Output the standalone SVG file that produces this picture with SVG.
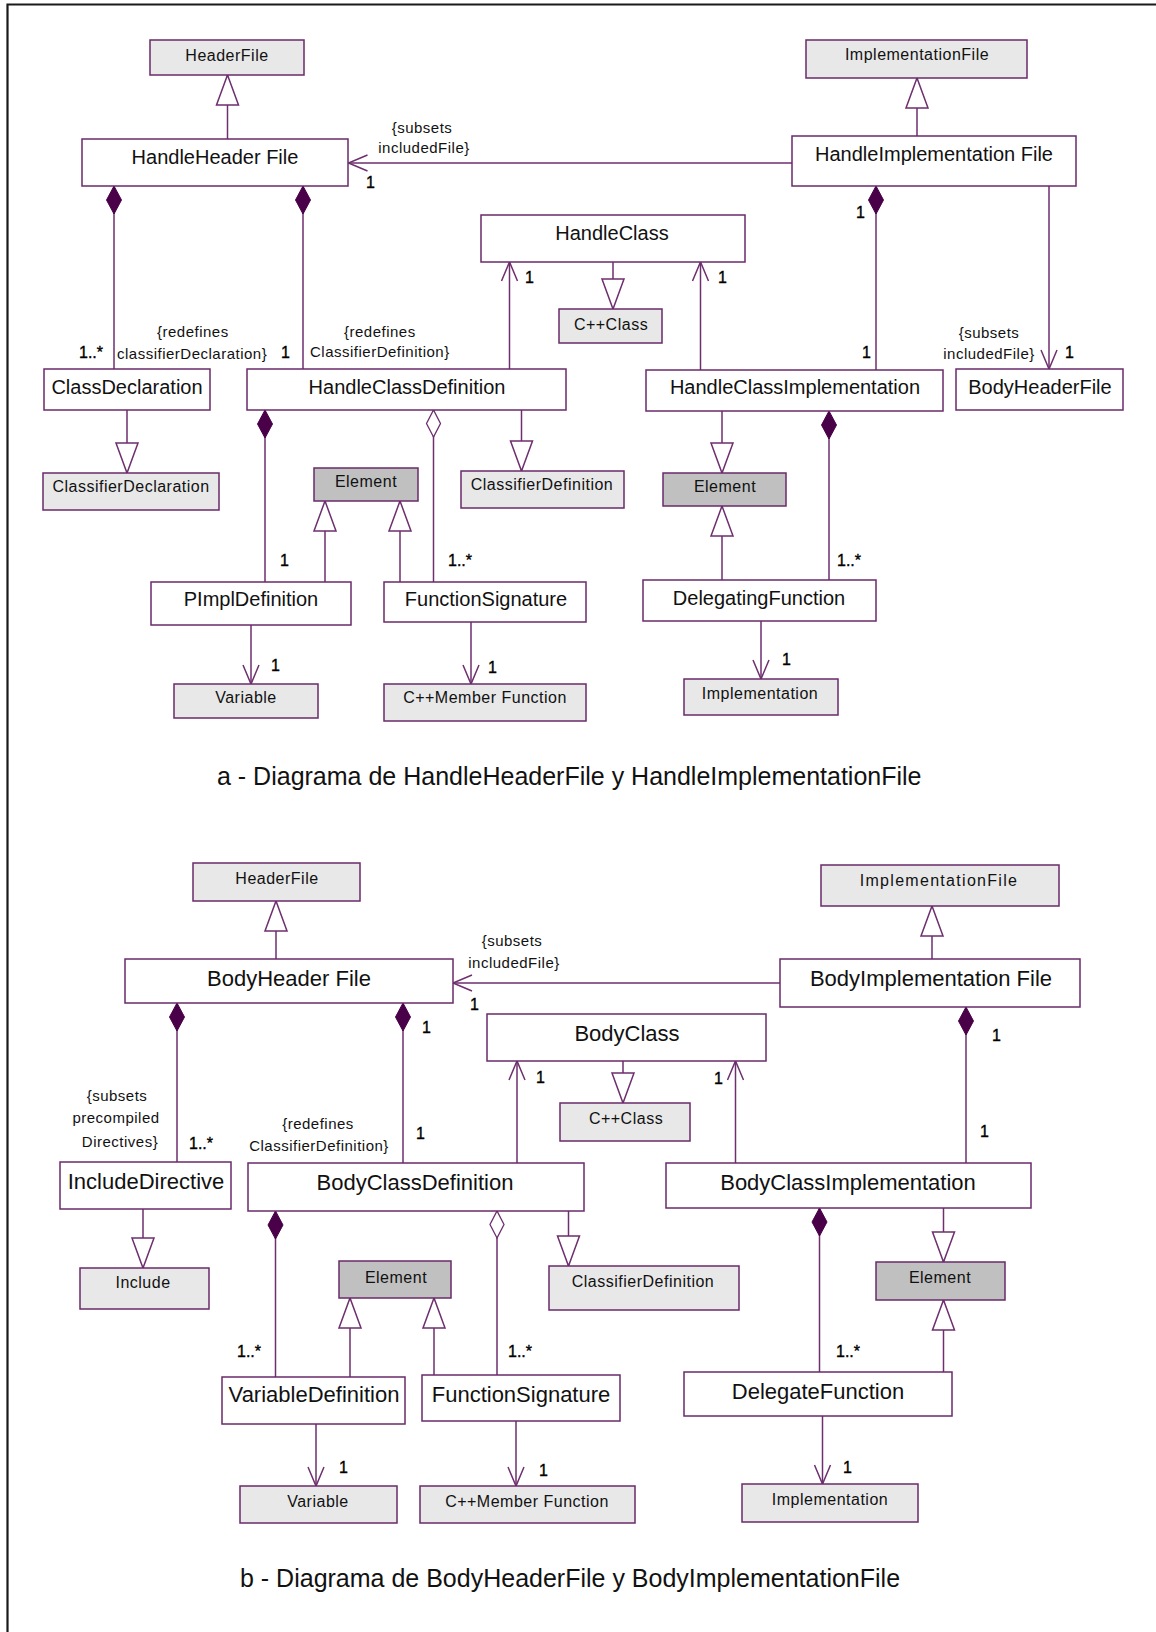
<svg xmlns="http://www.w3.org/2000/svg" width="1156" height="1632" viewBox="0 0 1156 1632">
<style>
.bg{fill:#fff}
.box{fill:#fff;stroke:#6a2a6a;stroke-width:1.5}
.lib{fill:#e8e8e8;stroke:#6a2a6a;stroke-width:1.5}
.el{fill:#c0c0c0;stroke:#6a2a6a;stroke-width:1.5}
text{font-family:"Liberation Sans",Arial,sans-serif;fill:#111}
.na{font-size:20px;text-anchor:middle}
.nb{font-size:22px;text-anchor:middle}
.s{font-size:16px;text-anchor:middle;letter-spacing:0.5px}
.lbl{font-size:15px;letter-spacing:0.5px}
.lc{font-size:15px;letter-spacing:0.5px;text-anchor:middle}
.m{font-size:16px;fill:#000;stroke:#000;stroke-width:0.35px}
.cap{font-size:25px}
.c line{stroke:#6e2f6e;stroke-width:1.5;fill:none}
.g{marker-end:url(#gen)}
.d{marker-end:url(#comp)}
.o{marker-end:url(#agg)}
.a{marker-end:url(#arr)}
</style>
<defs>
<marker id="gen" markerUnits="userSpaceOnUse" markerWidth="34" markerHeight="26" refX="30" refY="12" orient="auto" overflow="visible">
<path d="M0,1 L30,12 L0,23 Z" fill="#fff" stroke="#6e2f6e" stroke-width="1.5"/>
</marker>
<marker id="comp" markerUnits="userSpaceOnUse" markerWidth="30" markerHeight="18" refX="28" refY="7.5" orient="auto" overflow="visible">
<path d="M0,7.5 L14,0 L28,7.5 L14,15 Z" fill="#4a0048" stroke="#4a0048" stroke-width="1"/>
</marker>
<marker id="agg" markerUnits="userSpaceOnUse" markerWidth="30" markerHeight="18" refX="27" refY="7" orient="auto" overflow="visible">
<path d="M0,7 L13.5,0 L27,7 L13.5,14 Z" fill="#fff" stroke="#6e2f6e" stroke-width="1.3"/>
</marker>
<marker id="arr" markerUnits="userSpaceOnUse" markerWidth="22" markerHeight="18" refX="19" refY="8" orient="auto" overflow="visible">
<path d="M0,0 L19,8 L0,16" fill="none" stroke="#6e2f6e" stroke-width="1.5"/>
</marker>
</defs>
<rect class="bg" x="0" y="0" width="1156" height="1632"/>
<path d="M7.5,1632 V4.5 H1156" fill="none" stroke="#1a1a1a" stroke-width="2.2"/>

<g id="connectors" class="c">
<line class="g" x1="227.5" y1="139" x2="227.5" y2="75"/>
<line class="g" x1="917" y1="136" x2="917" y2="78"/>
<line class="a" x1="792" y1="163" x2="348.5" y2="163"/>
<line class="d" x1="114" y1="369" x2="114" y2="186"/>
<line class="d" x1="303" y1="369" x2="303" y2="186"/>
<line class="g" x1="613" y1="262" x2="613" y2="309"/>
<line class="a" x1="509.5" y1="369" x2="509.5" y2="262"/>
<line class="a" x1="700.5" y1="370" x2="700.5" y2="262"/>
<line class="d" x1="876" y1="370" x2="876" y2="186"/>
<line class="a" x1="1049" y1="186" x2="1049" y2="369"/>
<line class="g" x1="127" y1="410" x2="127" y2="473"/>
<line class="d" x1="265" y1="582" x2="265" y2="410"/>
<line class="o" x1="433.5" y1="582" x2="433.5" y2="410"/>
<line class="g" x1="521.5" y1="410" x2="521.5" y2="471"/>
<line class="g" x1="325" y1="582" x2="325" y2="501"/>
<line class="g" x1="400" y1="582" x2="400" y2="501"/>
<line class="a" x1="251" y1="625" x2="251" y2="684"/>
<line class="a" x1="471" y1="622" x2="471" y2="684"/>
<line class="g" x1="722" y1="411" x2="722" y2="473"/>
<line class="g" x1="722" y1="580" x2="722" y2="506"/>
<line class="d" x1="829" y1="580" x2="829" y2="411"/>
<line class="a" x1="761" y1="621" x2="761" y2="679"/>

<line class="g" x1="276" y1="959" x2="276" y2="901"/>
<line class="g" x1="932" y1="959" x2="932" y2="906"/>
<line class="a" x1="780" y1="983" x2="453" y2="983"/>
<line class="d" x1="177" y1="1162" x2="177" y2="1003"/>
<line class="d" x1="403" y1="1163" x2="403" y2="1003"/>
<line class="g" x1="623" y1="1061" x2="623" y2="1103"/>
<line class="a" x1="517" y1="1163" x2="517" y2="1061"/>
<line class="a" x1="735.5" y1="1163" x2="735.5" y2="1061"/>
<line class="d" x1="966" y1="1163" x2="966" y2="1007"/>
<line class="g" x1="143" y1="1209" x2="143" y2="1268"/>
<line class="d" x1="275.5" y1="1377" x2="275.5" y2="1211"/>
<line class="o" x1="497" y1="1375" x2="497" y2="1211"/>
<line class="g" x1="568.5" y1="1211" x2="568.5" y2="1266"/>
<line class="g" x1="350" y1="1377" x2="350" y2="1298"/>
<line class="g" x1="434" y1="1375" x2="434" y2="1298"/>
<line class="a" x1="316" y1="1424" x2="316" y2="1486"/>
<line class="a" x1="516" y1="1421" x2="516" y2="1486"/>
<line class="d" x1="819.5" y1="1372" x2="819.5" y2="1208"/>
<line class="g" x1="943.5" y1="1208" x2="943.5" y2="1262"/>
<line class="g" x1="943.5" y1="1372" x2="943.5" y2="1300"/>
<line class="a" x1="822.5" y1="1416" x2="822.5" y2="1484"/>
</g>

<g id="labels">
<text class="lc" x="422" y="133">{subsets</text>
<text class="lc" x="424" y="153">includedFile}</text>
<text class="m" x="366" y="188">1</text>
<text class="m" x="79" y="358">1..*</text>
<text class="lbl" x="157" y="337">{redefines</text>
<text class="lbl" x="117" y="359">classifierDeclaration}</text>
<text class="m" x="281" y="358">1</text>
<text class="lbl" x="344" y="337">{redefines</text>
<text class="lbl" x="310" y="357">ClassifierDefinition}</text>
<text class="m" x="525" y="283">1</text>
<text class="m" x="718" y="283">1</text>
<text class="m" x="856" y="218">1</text>
<text class="m" x="862" y="358">1</text>
<text class="lc" x="989" y="338">{subsets</text>
<text class="lc" x="989" y="359">includedFile}</text>
<text class="m" x="1065" y="358">1</text>
<text class="m" x="280" y="566">1</text>
<text class="m" x="448" y="566">1..*</text>
<text class="m" x="837" y="566">1..*</text>
<text class="m" x="271" y="671">1</text>
<text class="m" x="488" y="673">1</text>
<text class="m" x="782" y="665">1</text>
<text class="cap" x="217" y="785">a - Diagrama de HandleHeaderFile y HandleImplementationFile</text>

<text class="lc" x="512" y="946">{subsets</text>
<text class="lc" x="514" y="968">includedFile}</text>
<text class="m" x="470" y="1010">1</text>
<text class="lc" x="117" y="1101">{subsets</text>
<text class="lc" x="116" y="1123">precompiled</text>
<text class="lc" x="120" y="1147">Directives}</text>
<text class="m" x="189" y="1149">1..*</text>
<text class="lc" x="318" y="1129">{redefines</text>
<text class="lc" x="319" y="1151">ClassifierDefinition}</text>
<text class="m" x="422" y="1033">1</text>
<text class="m" x="416" y="1139">1</text>
<text class="m" x="536" y="1083">1</text>
<text class="m" x="714" y="1084">1</text>
<text class="m" x="992" y="1041">1</text>
<text class="m" x="980" y="1137">1</text>
<text class="m" x="237" y="1357">1..*</text>
<text class="m" x="508" y="1357">1..*</text>
<text class="m" x="836" y="1357">1..*</text>
<text class="m" x="339" y="1473">1</text>
<text class="m" x="539" y="1476">1</text>
<text class="m" x="843" y="1473">1</text>
<text class="cap" x="240" y="1587">b - Diagrama de BodyHeaderFile y BodyImplementationFile</text>
</g>

<g id="a-HeaderFile"><rect class="lib" x="150" y="40" width="154" height="35"/><text class="s" x="227" y="61">HeaderFile</text></g>
<g id="a-ImplementationFile"><rect class="lib" x="806" y="40" width="221" height="38"/><text class="s" x="917" y="60">ImplementationFile</text></g>
<g id="a-HandleHeaderFile"><rect class="box" x="82" y="139" width="266" height="47"/><text class="na" x="215" y="164">HandleHeader File</text></g>
<g id="a-HandleImplementationFile"><rect class="box" x="792" y="136" width="284" height="50"/><text class="na" x="934" y="161">HandleImplementation File</text></g>
<g id="a-HandleClass"><rect class="box" x="481" y="215" width="264" height="47"/><text class="na" x="612" y="240">HandleClass</text></g>
<g id="a-CppClass"><rect class="lib" x="559" y="309" width="103" height="34"/><text class="s" x="611" y="330">C++Class</text></g>
<g id="a-ClassDeclaration"><rect class="box" x="44" y="369" width="166" height="41"/><text class="na" x="127" y="394">ClassDeclaration</text></g>
<g id="a-HandleClassDefinition"><rect class="box" x="247" y="369" width="319" height="41"/><text class="na" x="407" y="394">HandleClassDefinition</text></g>
<g id="a-HandleClassImplementation"><rect class="box" x="646" y="370" width="297" height="41"/><text class="na" x="795" y="394">HandleClassImplementation</text></g>
<g id="a-BodyHeaderFile"><rect class="box" x="956" y="369" width="167" height="41"/><text class="na" x="1040" y="394">BodyHeaderFile</text></g>
<g id="a-ClassifierDeclaration"><rect class="lib" x="43" y="473" width="176" height="37"/><text class="s" x="131" y="492">ClassifierDeclaration</text></g>
<g id="a-Element1"><rect class="el" x="314" y="468" width="104" height="33"/><text class="s" x="366" y="487">Element</text></g>
<g id="a-ClassifierDefinition"><rect class="lib" x="461" y="471" width="163" height="37"/><text class="s" x="542" y="490">ClassifierDefinition</text></g>
<g id="a-Element2"><rect class="el" x="663" y="473" width="123" height="33"/><text class="s" x="725" y="492">Element</text></g>
<g id="a-PImplDefinition"><rect class="box" x="151" y="582" width="200" height="43"/><text class="na" x="251" y="606">PImplDefinition</text></g>
<g id="a-FunctionSignature"><rect class="box" x="384" y="582" width="202" height="40"/><text class="na" x="486" y="606">FunctionSignature</text></g>
<g id="a-DelegatingFunction"><rect class="box" x="643" y="580" width="233" height="41"/><text class="na" x="759" y="605">DelegatingFunction</text></g>
<g id="a-Variable"><rect class="lib" x="174" y="684" width="144" height="34"/><text class="s" x="246" y="703">Variable</text></g>
<g id="a-CppMemberFunction"><rect class="lib" x="384" y="684" width="202" height="37"/><text class="s" x="485" y="703">C++Member Function</text></g>
<g id="a-Implementation"><rect class="lib" x="684" y="679" width="154" height="36"/><text class="s" x="760" y="699">Implementation</text></g>

<g id="b-HeaderFile"><rect class="lib" x="193" y="863" width="167" height="38"/><text class="s" x="277" y="884">HeaderFile</text></g>
<g id="b-ImplementationFile"><rect class="lib" x="821" y="865" width="238" height="41"/><text class="s" x="939" y="886" style="letter-spacing:1.3px">ImplementationFile</text></g>
<g id="b-BodyHeaderFile"><rect class="box" x="125" y="959" width="328" height="44"/><text class="nb" x="289" y="986">BodyHeader File</text></g>
<g id="b-BodyImplementationFile"><rect class="box" x="780" y="959" width="300" height="48"/><text class="nb" x="931" y="986">BodyImplementation File</text></g>
<g id="b-BodyClass"><rect class="box" x="487" y="1014" width="279" height="47"/><text class="nb" x="627" y="1041">BodyClass</text></g>
<g id="b-CppClass"><rect class="lib" x="560" y="1103" width="130" height="38"/><text class="s" x="626" y="1124">C++Class</text></g>
<g id="b-IncludeDirective"><rect class="box" x="60" y="1162" width="171" height="47"/><text class="nb" x="146" y="1189">IncludeDirective</text></g>
<g id="b-BodyClassDefinition"><rect class="box" x="248" y="1163" width="336" height="48"/><text class="nb" x="415" y="1190">BodyClassDefinition</text></g>
<g id="b-BodyClassImplementation"><rect class="box" x="666" y="1163" width="365" height="45"/><text class="nb" x="848" y="1190">BodyClassImplementation</text></g>
<g id="b-Include"><rect class="lib" x="80" y="1268" width="129" height="41"/><text class="s" x="143" y="1288">Include</text></g>
<g id="b-Element1"><rect class="el" x="339" y="1261" width="112" height="37"/><text class="s" x="396" y="1283">Element</text></g>
<g id="b-ClassifierDefinition"><rect class="lib" x="549" y="1266" width="190" height="44"/><text class="s" x="643" y="1287">ClassifierDefinition</text></g>
<g id="b-Element2"><rect class="el" x="876" y="1262" width="129" height="38"/><text class="s" x="940" y="1283">Element</text></g>
<g id="b-VariableDefinition"><rect class="box" x="222" y="1377" width="183" height="47"/><text class="nb" x="314" y="1402">VariableDefinition</text></g>
<g id="b-FunctionSignature"><rect class="box" x="422" y="1375" width="198" height="46"/><text class="nb" x="521" y="1402">FunctionSignature</text></g>
<g id="b-DelegateFunction"><rect class="box" x="684" y="1372" width="268" height="44"/><text class="nb" x="818" y="1399">DelegateFunction</text></g>
<g id="b-Variable"><rect class="lib" x="240" y="1486" width="157" height="37"/><text class="s" x="318" y="1507">Variable</text></g>
<g id="b-CppMemberFunction"><rect class="lib" x="420" y="1486" width="215" height="37"/><text class="s" x="527" y="1507">C++Member Function</text></g>
<g id="b-Implementation"><rect class="lib" x="742" y="1484" width="176" height="38"/><text class="s" x="830" y="1505">Implementation</text></g>
</svg>
